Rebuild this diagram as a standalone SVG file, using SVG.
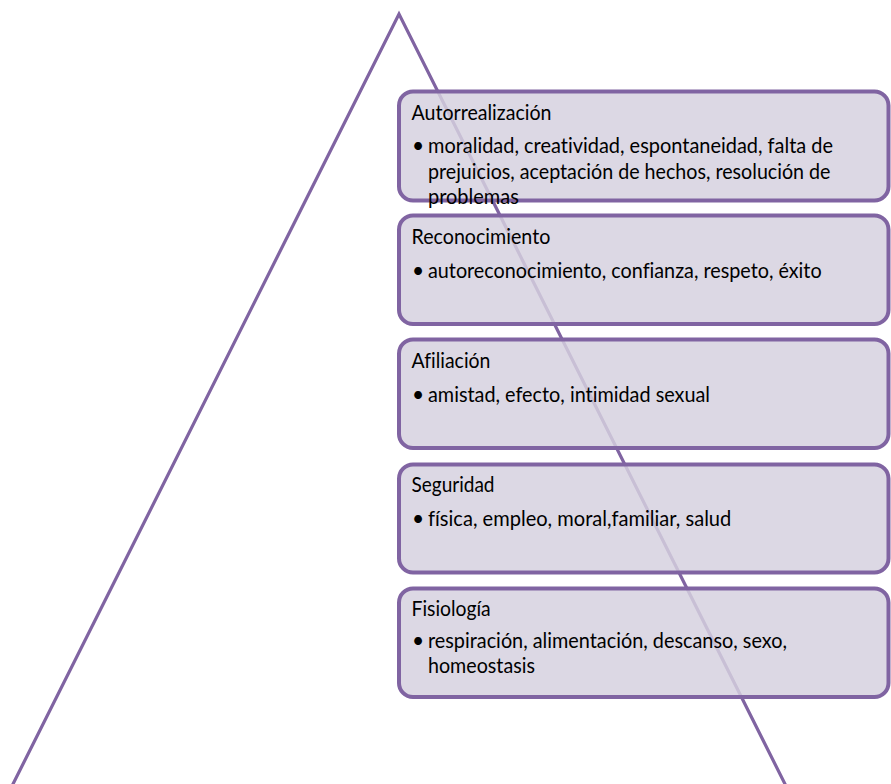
<svg xmlns="http://www.w3.org/2000/svg" width="891" height="784" viewBox="0 0 891 784">
  <style>
    .edge { fill: none; stroke: #8064A2; stroke-width: 3.2; stroke-linejoin: miter; }
    .box { fill: #D5D1DF; fill-opacity: 0.84; stroke: #8064A2; stroke-width: 4; }
    .t { font-family: Lato, "Liberation Sans", sans-serif; font-size: 21px; fill: #000; font-variant-ligatures: none; }
  </style>
  <rect width="891" height="784" fill="#FFFFFF"/>
  <g id="connectors">
    <polyline class="edge" points="9,792 399,14 789,792"/>
  </g>
  <g id="autorrealizacion">
    <rect class="box" x="399" y="91.5" width="489.5" height="109" rx="14"/>
    <text class="t" x="411.5" y="120" textLength="140" lengthAdjust="spacingAndGlyphs">Autorrealización</text>
    <text class="t" x="412" y="153">•</text>
    <text class="t" x="428" y="153" textLength="405" lengthAdjust="spacingAndGlyphs">moralidad, creatividad, espontaneidad, falta de</text>
    <text class="t" x="428" y="178.6" textLength="402.5" lengthAdjust="spacingAndGlyphs">prejuicios, aceptación de hechos, resolución de</text>
    <text class="t" x="428" y="204.2" textLength="90.8" lengthAdjust="spacingAndGlyphs">problemas</text>
  </g>
  <g id="reconocimiento">
    <rect class="box" x="399" y="215.5" width="489.5" height="108.5" rx="14"/>
    <text class="t" x="411.5" y="244" textLength="138.8" lengthAdjust="spacingAndGlyphs">Reconocimiento</text>
    <text class="t" x="412" y="277.5">•</text>
    <text class="t" x="428" y="277.5" textLength="393.6" lengthAdjust="spacingAndGlyphs">autoreconocimiento, confianza, respeto, éxito</text>
  </g>
  <g id="afiliacion">
    <rect class="box" x="399" y="339.5" width="489.5" height="108.5" rx="14"/>
    <text class="t" x="411.5" y="368" textLength="78.9" lengthAdjust="spacingAndGlyphs">Afiliación</text>
    <text class="t" x="412" y="402">•</text>
    <text class="t" x="428" y="402" textLength="282" lengthAdjust="spacingAndGlyphs">amistad, efecto, intimidad sexual</text>
  </g>
  <g id="seguridad">
    <rect class="box" x="399" y="464.5" width="489.5" height="108" rx="14"/>
    <text class="t" x="411.5" y="492" textLength="83" lengthAdjust="spacingAndGlyphs">Seguridad</text>
    <text class="t" x="412" y="525.5">•</text>
    <text class="t" x="428" y="525.5" textLength="303.3" lengthAdjust="spacingAndGlyphs">física, empleo, moral,familiar, salud</text>
  </g>
  <g id="fisiologia">
    <rect class="box" x="399" y="588.5" width="489.5" height="108.5" rx="14"/>
    <text class="t" x="411.5" y="616" textLength="79.2" lengthAdjust="spacingAndGlyphs">Fisiología</text>
    <text class="t" x="412" y="647.5">•</text>
    <text class="t" x="428" y="647.5" textLength="358.9" lengthAdjust="spacingAndGlyphs">respiración, alimentación, descanso, sexo,</text>
    <text class="t" x="428" y="673" textLength="106.9" lengthAdjust="spacingAndGlyphs">homeostasis</text>
  </g>
</svg>
